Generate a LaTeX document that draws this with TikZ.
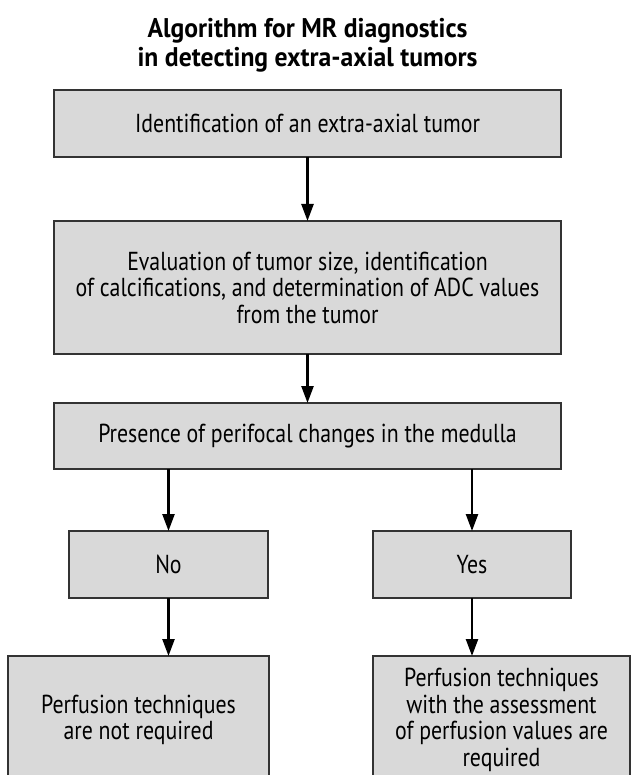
\documentclass[tikz,border=0pt]{standalone}
\usepackage{fontspec}
\setmainfont{PT Sans}[FakeStretch=0.84]
\newfontfamily\titlefont{PT Sans}[FakeStretch=0.95]
\usetikzlibrary{arrows.meta}
\definecolor{boxfill}{HTML}{D9D9D9}
\definecolor{boxline}{HTML}{333333}
\tikzset{
  x=1pt, y=-1pt,
  flowbox/.style={draw=boxline, line width=1.3pt, fill=boxfill, align=center,
    inner sep=0pt, outer sep=0pt, font=\fontsize{26}{26.5}\selectfont},
  flowarrow/.style={line width=2.4pt, -{Triangle[length=17pt,width=12pt]}}
}
\begin{document}
\begin{tikzpicture}
\useasboundingbox (0,0) rectangle (631,775);
\clip (0,0) rectangle (631,775);
\node[font=\titlefont\fontsize{27}{29}\selectfont\bfseries, align=center, anchor=north] (title) at (307.5,15)
  {Algorithm for MR diagnostics\\in detecting extra-axial tumors};
\node[flowbox, minimum width=507pt, minimum height=67pt] (b1) at (307.5,123.5)
  {Identification of an extra-axial tumor};
\node[flowbox, minimum width=507pt, minimum height=133pt] (b2) at (307.5,287.5)
  {Evaluation of tumor size, identification\\of calcifications, and determination of ADC values\\from the tumor};
\node[flowbox, minimum width=507pt, minimum height=66pt] (b3) at (307.5,436)
  {Presence of perifocal changes in the medulla};
\node[flowbox, minimum width=199pt, minimum height=67pt] (no) at (168.5,564.5) {No};
\node[flowbox, minimum width=198pt, minimum height=67pt] (yes) at (472,564.5) {Yes};
\node[flowbox, minimum width=261pt, minimum height=128pt] (bl) at (138.5,720)
  {Perfusion techniques\\are not required};
\node[flowbox, minimum width=257pt, minimum height=128pt] (br) at (501.5,720)
  {Perfusion techniques\\with the assessment\\of perfusion values are\\required};
\draw[flowarrow] (b1.south) -- (b2.north);
\draw[flowarrow] (b2.south) -- (b3.north);
\draw[flowarrow] (b3.south -| no.north) -- (no.north);
\draw[flowarrow] (b3.south -| yes.north) -- (yes.north);
\draw[flowarrow] (no.south) -- (no.south |- bl.north);
\draw[flowarrow] (yes.south) -- (yes.south |- br.north);
\end{tikzpicture}
\end{document}
